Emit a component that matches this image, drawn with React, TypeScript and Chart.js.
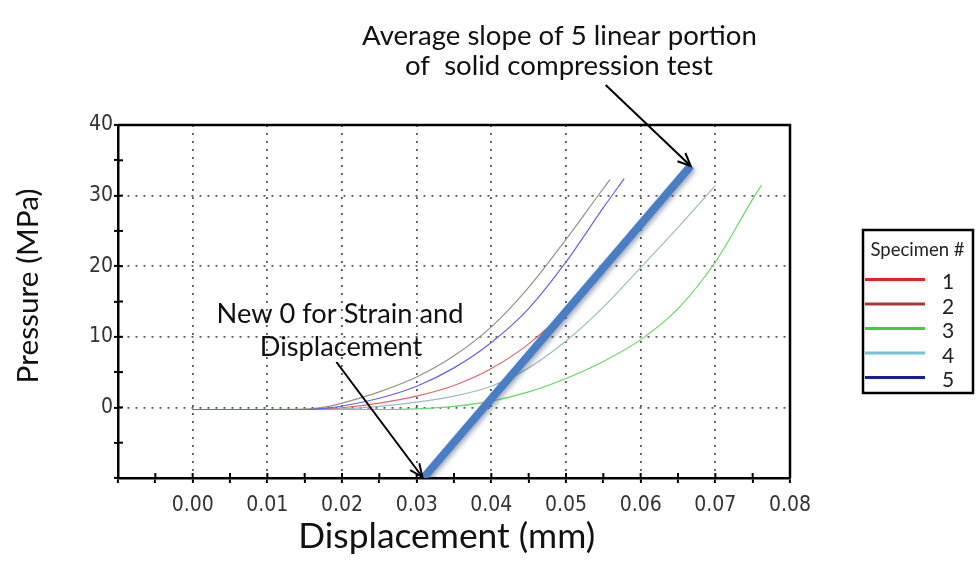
import React, { useEffect, useRef } from 'react';
import { Chart, registerables } from 'chart.js';

Chart.register(...registerables);

// ---------- data ----------
const specimenLabels = ['1', '2', '3', '4', '5'];

const spec1X = [0, 0.005, 0.01, 0.015, 0.02, 0.025, 0.03, 0.035, 0.04, 0.045, 0.05, 0.055, 0.06, 0.065];
const spec1Y = [-0.3, -0.3, -0.3, -0.3, -0.05, 0.6, 1.6, 3.1, 5.5, 9.0, 13.8, 19.8, 26.2, 32.5];

const spec2X = [0, 0.005, 0.01, 0.015, 0.018, 0.02, 0.025, 0.03, 0.035, 0.04, 0.045, 0.05, 0.0545, 0.0559];
const spec2Y = [-0.3, -0.3, -0.3, -0.25, 0.1, 0.6, 2.2, 4.3, 7.3, 11.4, 17.0, 23.8, 30.3, 32.3];

const spec3X = [0, 0.005, 0.01, 0.015, 0.02, 0.025, 0.03, 0.035, 0.04, 0.045, 0.05, 0.055, 0.06, 0.065, 0.07, 0.075, 0.0762];
const spec3Y = [-0.3, -0.3, -0.3, -0.3, -0.3, -0.3, -0.2, 0.15, 0.9, 2.2, 4.1, 6.5, 9.6, 14.0, 20.6, 29.5, 31.5];

const spec4X = [0, 0.005, 0.01, 0.015, 0.02, 0.025, 0.03, 0.035, 0.04, 0.045, 0.05, 0.055, 0.06, 0.065, 0.07];
const spec4Y = [-0.3, -0.3, -0.3, -0.3, -0.2, 0.15, 0.75, 1.6, 3.0, 5.6, 9.4, 14.2, 19.8, 25.5, 31.4];

const spec5X = [0, 0.005, 0.01, 0.015, 0.018, 0.02, 0.025, 0.03, 0.035, 0.04, 0.045, 0.05, 0.055, 0.0578];
const spec5Y = [-0.3, -0.3, -0.3, -0.3, -0.1, 0.2, 1.3, 3.0, 5.6, 9.2, 14.0, 20.6, 28.3, 32.4];

const slopeX = [0.0309, 0.0667];
const slopeY = [-10, 34.2];

const xMin = -0.01;
const xMax = 0.08;
const xStep = 0.005;
const yMin = -10;
const yMax = 40;
const yStep = 5;

// ---------- styles ----------
const legendColors = ['#e8202a', '#a83a3a', '#3ad13a', '#6cc6d6', '#1a1aa8'];
const plotColors = ['#e06666', '#9c8f86', '#66d866', '#9cbcc0', '#6464e4'];
const TEXT_FONT = "Lato, 'Open Sans', 'Noto Sans', sans-serif";
const TICK_FONT = "'Liberation Sans Narrow', 'DejaVu Sans Condensed', 'DejaVu Sans', sans-serif";
const DOT_COLOR = 'rgba(80,80,80,0.95)';

const pts = (xs: number[], ys: number[]) => xs.map((x, i) => ({ x, y: ys[i] }));

function fitSize(ctx: CanvasRenderingContext2D, text: string, family: string, target: number) {
  ctx.font = `100px ${family}`;
  const w = ctx.measureText(text).width;
  return (100 * target) / w;
}

function arrow(ctx: CanvasRenderingContext2D, x1: number, y1: number, x2: number, y2: number) {
  ctx.save();
  ctx.strokeStyle = '#000';
  ctx.lineWidth = 2;
  ctx.beginPath();
  ctx.moveTo(x1, y1);
  ctx.lineTo(x2, y2);
  ctx.stroke();
  const a = Math.atan2(y2 - y1, x2 - x1);
  const L = 14;
  const s = 0.42;
  ctx.beginPath();
  ctx.moveTo(x2 - L * Math.cos(a - s), y2 - L * Math.sin(a - s));
  ctx.lineTo(x2, y2);
  ctx.lineTo(x2 - L * Math.cos(a + s), y2 - L * Math.sin(a + s));
  ctx.stroke();
  ctx.restore();
}

const decorPlugin = {
  id: 'decor',
  beforeDatasetDraw(chart: any, args: any) {
    if (args.index === 0) {
      const ctx = chart.ctx;
      ctx.save();
      ctx.shadowColor = 'rgba(40,60,90,0.45)';
      ctx.shadowBlur = 5;
      ctx.shadowOffsetX = 2;
      ctx.shadowOffsetY = 2;
    }
  },
  afterDatasetDraw(chart: any, args: any) {
    if (args.index === 0) chart.ctx.restore();
  },
  afterDraw(chart: any) {
    const ctx: CanvasRenderingContext2D = chart.ctx;
    const { left, right, top, bottom } = chart.chartArea;
    const xs = chart.scales.x;
    const ys = chart.scales.y;

    // frame (top / right)
    ctx.save();
    ctx.strokeStyle = '#000';
    ctx.lineWidth = 2.5;
    ctx.beginPath();
    ctx.moveTo(left, top);
    ctx.lineTo(right, top);
    ctx.lineTo(right, bottom);
    ctx.stroke();

    // inner halves of tick marks
    ctx.lineWidth = 2;
    ys.ticks.forEach((t: any) => {
      const y = ys.getPixelForValue(t.value);
      ctx.beginPath();
      ctx.moveTo(left, y);
      ctx.lineTo(left + 5, y);
      ctx.stroke();
    });
    xs.ticks.forEach((t: any) => {
      const x = xs.getPixelForValue(t.value);
      ctx.beginPath();
      ctx.moveTo(x, bottom);
      ctx.lineTo(x, bottom - 5);
      ctx.stroke();
    });
    ctx.restore();

    // arrows pointing to the ends of the average slope line
    const tipTopX = xs.getPixelForValue(slopeX[1]);
    const tipTopY = ys.getPixelForValue(slopeY[1]);
    const tipBotX = xs.getPixelForValue(slopeX[0]) - 1;
    const tipBotY = ys.getPixelForValue(slopeY[0]) - 1;
    arrow(ctx, tipTopX - 85, tipTopY - 81, tipTopX, tipTopY);
    arrow(ctx, tipBotX - 86, tipBotY - 115, tipBotX, tipBotY);

    // annotation texts
    ctx.save();
    ctx.fillStyle = '#111';
    ctx.textAlign = 'center';
    ctx.textBaseline = 'alphabetic';
    const l1 = 'Average slope of 5 linear portion';
    const s1 = fitSize(ctx, l1, TEXT_FONT, 395);
    ctx.font = `${s1}px ${TEXT_FONT}`;
    ctx.fillText(l1, 559.5, 45);
    ctx.fillText('of  solid compression test', 559, 75);

    const l3 = 'New 0 for Strain and';
    const s3 = fitSize(ctx, l3, TEXT_FONT, 247);
    ctx.font = `${s3}px ${TEXT_FONT}`;
    ctx.fillText(l3, 340, 323);
    ctx.fillText('Displacement', 341, 356);

    // axis titles
    const xt = 'Displacement (mm)';
    const sx = fitSize(ctx, xt, TEXT_FONT, 297);
    ctx.font = `${sx}px ${TEXT_FONT}`;
    ctx.fillText(xt, 446.7, 548);

    const yt = 'Pressure (MPa)';
    const sy = fitSize(ctx, yt, TEXT_FONT, 195);
    ctx.translate(38, 286);
    ctx.rotate(-Math.PI / 2);
    ctx.font = `${sy}px ${TEXT_FONT}`;
    ctx.fillText(yt, 0, 0);
    ctx.restore();

    // legend
    ctx.save();
    const bx = 863, by = 230, bw = 110, bh = 163;
    ctx.fillStyle = '#fff';
    ctx.fillRect(bx, by, bw, bh);
    ctx.strokeStyle = '#000';
    ctx.lineWidth = 2.5;
    ctx.strokeRect(bx, by, bw, bh);
    ctx.fillStyle = '#222';
    ctx.textAlign = 'center';
    const title = 'Specimen #';
    const st = fitSize(ctx, title, TEXT_FONT, 94);
    ctx.font = `${st}px ${TEXT_FONT}`;
    ctx.fillText(title, 917.5, 256);
    ctx.font = `21px ${TEXT_FONT}`;
    ctx.textBaseline = 'middle';
    specimenLabels.forEach((lab, i) => {
      const y = 279.5 + i * 24.5;
      ctx.strokeStyle = legendColors[i];
      ctx.lineWidth = 3;
      ctx.beginPath();
      ctx.moveTo(865, y);
      ctx.lineTo(925, y);
      ctx.stroke();
      ctx.fillStyle = '#222';
      ctx.fillText(lab, 948, y + 3);
    });
    ctx.restore();
  },
};

export default function App() {
  const ref = useRef<HTMLCanvasElement | null>(null);

  useEffect(() => {
    if (!ref.current) return;
    const specX = [spec1X, spec2X, spec3X, spec4X, spec5X];
    const specY = [spec1Y, spec2Y, spec3Y, spec4Y, spec5Y];

    const curveSets = specimenLabels.map((lab, i) => ({
      label: lab,
      data: pts(specX[i], specY[i]),
      borderColor: plotColors[i],
      borderWidth: 1.2,
      pointRadius: 0,
      fill: false,
      cubicInterpolationMode: 'monotone' as const,
      order: i === 4 ? 1 : 2,
    }));

    const chart = new Chart(ref.current, {
      type: 'line',
      data: {
        datasets: [
          {
            label: 'Average slope',
            data: pts(slopeX, slopeY),
            borderColor: '#4a7ec4',
            borderWidth: 8,
            pointRadius: 0,
            fill: false,
            borderCapStyle: 'butt',
            order: 0,
          },
          ...curveSets,
        ] as any,
      },
      options: {
        responsive: false,
        animation: false,
        devicePixelRatio: 1,
        layout: { padding: { top: 125, right: 190, left: 0, bottom: 0 } },
        plugins: { legend: { display: false }, tooltip: { enabled: false } },
        scales: {
          x: {
            type: 'linear',
            min: xMin,
            max: xMax,
            afterFit: (s: any) => {
              s.height = 83;
            },
            ticks: {
              stepSize: xStep,
              autoSkip: false,
              maxRotation: 0,
              padding: 10,
              color: '#333',
              font: { family: TICK_FONT, size: 21 },
              callback: (v: any) => {
                const m = Math.round(Number(v) * 1000);
                return m >= 0 && m % 10 === 0 ? (m / 1000).toFixed(2) : '';
              },
            },
            grid: {
              color: (c: any) => {
                const m = Math.round((c.tick ? c.tick.value : -1) * 1000);
                return m >= 0 && m <= 70 && m % 10 === 0 ? DOT_COLOR : 'rgba(0,0,0,0)';
              },
              lineWidth: 1.8,
              drawTicks: true,
              tickLength: 5,
              tickColor: '#000',
              tickWidth: 2,
            },
            border: { display: true, color: '#000', width: 2.5, dash: [2, 6] },
          },
          y: {
            type: 'linear',
            min: yMin,
            max: yMax,
            afterFit: (s: any) => {
              s.width = 118;
            },
            ticks: {
              stepSize: yStep,
              autoSkip: false,
              padding: 1,
              color: '#333',
              font: { family: TICK_FONT, size: 21 },
              callback: (v: any) => {
                const r = Math.round(Number(v));
                return r >= 0 && r % 10 === 0 ? String(r) : '';
              },
            },
            grid: {
              color: (c: any) => {
                const r = Math.round(c.tick ? c.tick.value : -99);
                return r >= 0 && r <= 30 && r % 10 === 0 ? DOT_COLOR : 'rgba(0,0,0,0)';
              },
              lineWidth: 1.8,
              drawTicks: true,
              tickLength: 4,
              tickColor: '#000',
              tickWidth: 2,
            },
            border: { display: true, color: '#000', width: 2.5, dash: [2, 6] },
          },
        },
      },
      plugins: [decorPlugin],
    });

    return () => chart.destroy();
  }, []);

  return (
    <div style={{ position: 'fixed', left: 0, top: 0, width: 980, height: 561, background: '#fff' }}>
      <canvas ref={ref} width={980} height={561} style={{ display: 'block' }} />
    </div>
  );
}
